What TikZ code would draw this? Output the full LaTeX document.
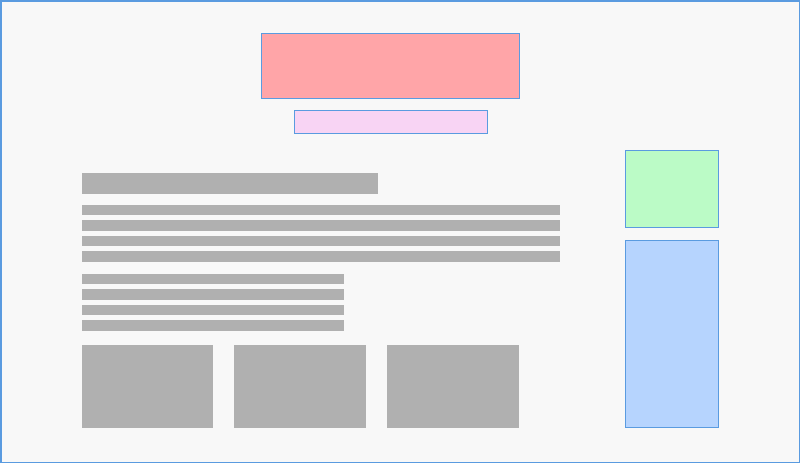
\documentclass[tikz,border=0pt]{standalone}
\usetikzlibrary{positioning}
\definecolor{bgc}{HTML}{F8F8F8}
\definecolor{edge}{HTML}{5A9BE0}
\definecolor{redf}{HTML}{FFA5A8}
\definecolor{pinkf}{HTML}{F8D4F4}
\definecolor{greenf}{HTML}{BBFBC6}
\definecolor{bluef}{HTML}{B6D4FE}
\definecolor{grayf}{HTML}{B0B0B0}
\tikzset{
  box/.style={rectangle, inner sep=0pt, outer sep=0pt, anchor=north west},
  colbox/.style={box, draw=edge, line width=1pt},
  graybox/.style={box, fill=grayf},
}
\newcommand{\bx}[7]{\node[#1, fill=#7, minimum width=#4pt, minimum height=#5pt] (#6) at (#2,#3) {};}
\begin{document}
\begin{tikzpicture}[x=1pt,y=-1pt]
\useasboundingbox (0,0) rectangle (800,463);
\node[box, fill=bgc, draw=edge, line width=1.5pt, minimum width=798.5pt, minimum height=461.5pt] (frame) at (0.75,0.75) {};
% top banners
\bx{colbox}{261.5}{33}{257.5}{65.5}{hero}{redf}
\bx{colbox}{294}{110}{193}{23}{sub}{pinkf}
% heading bar
\bx{graybox}{81.5}{173}{296.5}{21}{head}{grayf}
% long lines
\bx{graybox}{81.5}{204.5}{478.5}{10.5}{lineA}{grayf}
\bx{graybox}{81.5}{220}{478.5}{10.5}{lineB}{grayf}
\bx{graybox}{81.5}{235.5}{478.5}{10.5}{lineC}{grayf}
\bx{graybox}{81.5}{251}{478.5}{10.5}{lineD}{grayf}
% short lines
\bx{graybox}{81.5}{273.5}{262.5}{10.5}{shortA}{grayf}
\bx{graybox}{81.5}{289}{262.5}{10.5}{shortB}{grayf}
\bx{graybox}{81.5}{304.5}{262.5}{10.5}{shortC}{grayf}
\bx{graybox}{81.5}{320}{262.5}{10.5}{shortD}{grayf}
% bottom cards
\bx{graybox}{81.5}{345}{131.5}{82.5}{cardA}{grayf}
\bx{graybox}{234}{344.5}{131.5}{83}{cardB}{grayf}
\bx{graybox}{387}{344.5}{131.5}{83}{cardC}{grayf}
% sidebar
\bx{colbox}{625.5}{150}{93}{77}{sideA}{greenf}
\bx{colbox}{625.5}{240.5}{93}{187}{sideB}{bluef}
\end{tikzpicture}
\end{document}
